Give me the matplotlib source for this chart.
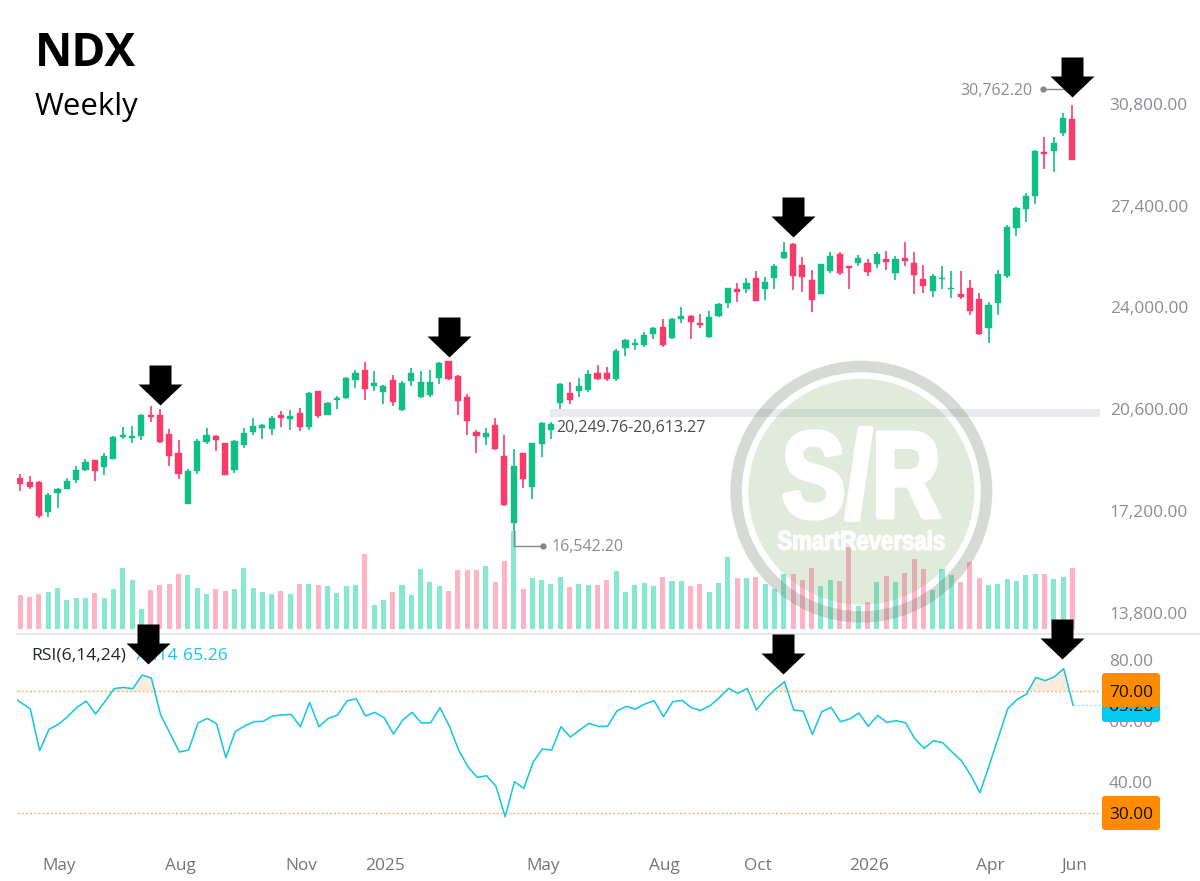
import numpy as np
import pandas as pd
import matplotlib
matplotlib.use("Agg")
import matplotlib.pyplot as plt
from matplotlib.path import Path
from matplotlib.lines import Line2D
from matplotlib.patches import Circle, Wedge, FancyBboxPatch
from matplotlib.transforms import Affine2D
import matplotlib.patheffects as pe

opens = [18309,18153,18164,17161,17807,17941,18220,18554,18888,18654,18944,19668,19635,19713,20415,20415,19769,19134,17440,18543,
19512,19702,19457,18565,19401,19836,19958,19936,20393,20281,20482,19992,21195,20415,20916,20961,21563,21908,21362,21173,
21563,20571,21540,20994,21061,21652,22198,21696,21006,19847,19668,20058,19022,16782,19122,18008,19423,19914,20804,21150,
21195,21250,21796,21796,21607,22632,22755,22755,23111,23356,22977,23601,23713,23468,23000,23724,24159,24604,24615,24994,
24615,24994,25663,26131,25429,24906,24449,25207,25775,25374,25497,25474,25463,25630,25140,25641,25497,24962,24549,24939,
24616,24438,24661,24293,23301,24148,25040,26656,27280,27725,29196,29230,29820,30299]
highs = [18420,18365,18186,17796,17952,18287,18699,18933,18900,19145,19702,20003,20047,20437,20716,20604,19936,19568,18610,19602,
19958,19746,19468,19579,19969,20292,20092,20359,20526,20571,20627,21184,21217,20850,21039,21663,21908,22164,21864,21396,
21730,21540,21964,21864,21897,22164,22220,21752,21095,19902,19958,20315,19724,19256,19145,19479,20181,20181,21473,21506,
21640,21919,22064,22008,22621,22933,22944,23167,23334,23613,23646,24003,23757,23769,23880,24159,24660,24805,24983,25206,
25017,25440,26198,26153,25685,25251,25463,25842,25842,25396,25742,25619,25842,25887,25719,26187,25864,25407,25107,25374,
25207,25207,24906,24494,24193,25251,26745,27346,27814,29263,29698,29698,30489,30762]
lows = [17874,17930,16972,17005,17284,17930,18142,18532,18186,18387,18922,19613,19468,19568,20159,19479,18710,18253,17429,18420,
19434,19212,18398,18454,19290,19724,19613,19746,20014,19902,19880,19891,20292,20393,20593,20939,21295,20894,21217,20783,
20716,20526,21373,20972,20994,21451,21574,20393,19724,19145,19390,19234,17373,16542,17975,17585,19000,19590,20604,20771,
21016,21183,21573,21540,21529,22376,22576,22665,22944,22665,22955,23468,22933,23323,22977,23679,23980,24170,24493,24203,
24248,24627,25629,24582,24515,23836,24438,25140,25084,24627,25385,25062,25329,25240,24928,25396,24438,24494,24360,24605,
24304,24271,23736,23067,22822,23758,24995,26388,26856,27469,28617,28539,29731,28918]
closes = [18108,17997,17027,17741,17930,18197,18576,18833,18532,19033,19680,19724,19702,20415,20326,19512,19033,18443,18543,19535,
19735,19568,18409,19546,19802,20025,20070,20292,20315,20382,20014,21150,20370,20816,20983,21641,21808,21273,21485,21362,
20827,21462,21797,21496,21518,22142,21596,20883,20203,19691,19791,19256,17395,18710,18264,19457,20136,20092,21451,20894,
21362,21774,21618,21618,22554,22899,22799,23089,23301,22732,23624,23724,23501,23401,23668,24114,24638,24504,24805,24214,
24838,25373,25863,25061,25005,24237,25441,25719,25151,25329,25664,25196,25786,25519,25619,25552,25073,24728,25040,24973,
24661,24349,23892,23101,24070,25129,26689,27324,27736,29241,29129,29486,30344,28929]
volumes = [102,97,105,112,123,88,95,93,108,95,121,185,148,61,118,133,137,166,164,125,
106,121,115,120,184,123,112,105,114,107,136,136,133,131,108,130,133,225,74,87,
113,134,104,181,143,131,115,177,177,179,190,142,205,295,120,154,147,135,158,126,
136,134,132,148,174,112,132,139,130,157,146,146,131,137,113,140,216,155,155,156,
135,122,165,165,147,183,130,147,146,248,70,82,143,160,141,168,211,181,118,181,
164,143,202,155,133,137,150,144,162,166,165,150,158,185]
# the first value belongs to the week before the first visible candle
rsi = [68.25,66.07,63.99,50.33,57.32,58.96,61.48,64.54,66.61,62.35,66.39,70.66,71.09,70.66,75.14,74.15,62.02,56.01,49.89,50.55,
59.40,60.93,59.18,48.03,56.56,58.42,59.84,59.95,61.69,62.02,62.24,58.20,66.17,58.20,60.93,62.02,66.61,67.38,61.69,62.90,
61.15,55.79,60.38,62.90,59.40,59.51,64.43,58.42,50.55,45.08,41.58,42.13,38.74,28.69,40.16,37.98,46.61,50.87,50.55,58.20,
54.81,57.10,59.29,58.31,58.31,63.33,64.86,63.99,65.63,66.72,61.48,66.39,66.83,64.43,63.55,65.08,67.70,70.77,69.13,70.77,
63.66,67.49,70.44,72.95,63.66,63.33,55.68,63.11,64.54,59.84,60.71,62.68,58.31,61.91,59.62,60.16,59.51,54.26,51.09,53.61,
52.95,49.89,47.05,42.35,36.56,45.63,54.92,64.21,67.16,68.91,74.37,73.28,74.59,77.21,65.26]
price_ticks = [13800,17200,20600,24000,27400,30800]
rsi_ticks = [40,60,80]
month_ticks = ['2024-05-06','2024-08-05','2024-11-04','2025-01-06','2025-05-05','2025-08-04','2025-10-13','2026-01-05','2026-04-06','2026-06-08']
month_labels = ['May','Aug','Nov','2025','May','Aug','Oct','2026','Apr','Jun']
price_arrow_weeks = [15,46,83,113]
price_arrow_values = [20740,22340,26350,31040]
rsi_arrow_weeks = [13.7,81.9,111.9]
rsi_arrow_values = [78.66,75.38,80.3]
band_low, band_high = 20350, 20613.27

plt.rcParams['font.family'] = ['Open Sans','DejaVu Sans']
W, H = 1200, 881
GREEN, RED = '#0FBF85', '#FB3A6A'
VGREEN, VRED = '#86E9CF', '#FFB4C6'
GRAY, CYAN, ORANGE = '#8C8C94', '#17C8E4', '#FF8C00'
fs = 12.4
fs_note = 11.5

class Condense(pe.AbstractPathEffect):
    """Draw a text narrower about a vertical line, with a stroke that thickens it."""
    def __init__(self, sx, xc, stroke=0):
        super().__init__()
        self.sx, self.xc, self.stroke = sx, xc, stroke
    def draw_path(self, renderer, gc, tpath, affine, rgbFace):
        aff = affine + Affine2D().translate(-self.xc, 0).scale(self.sx, 1).translate(self.xc, 0)
        gc0 = renderer.new_gc()
        gc0.copy_properties(gc)
        if self.stroke:
            gc0.set_foreground(rgbFace)
            gc0.set_linewidth(self.stroke)
        renderer.draw_path(gc0, tpath, aff, rgbFace)
        gc0.restore()

weeks = pd.date_range('2024-04-08', periods=len(opens), freq='W-MON')
x = np.arange(len(opens))
o, h, l, c = map(np.array, (opens, highs, lows, closes))
up = c >= o

fig = plt.figure(figsize=(12, 8.81), dpi=100, facecolor='white')
def rect(left, top, right, bottom):
    return [left/W, 1-bottom/H, (right-left)/W, (bottom-top)/H]

L, R = 16.7, 1100
xlim = ((L-20.3)/9.31, (R-20.3)/9.31)
to_price = lambda y: 34277-33.43*y
to_rsi = lambda y: 70-(y-690.7)/3.05

ax_vol = fig.add_axes(rect(L, 0, R, 629.3), zorder=1)
ax = fig.add_axes(rect(L, 0, R, 629.3), zorder=2)
ax_rsi = fig.add_axes(rect(L, 634, R, 845), zorder=4)
over = fig.add_axes([0, 0, 1, 1], zorder=5)
for a in (ax_vol, ax, ax_rsi, over):
    a.patch.set_visible(False)
    for s in a.spines.values():
        s.set_visible(False)
    a.tick_params(length=0)
over.set_xlim(0, W); over.set_ylim(H, 0); over.axis('off')
fig.add_artist(Line2D([L/W, 1], [1-633.7/H]*2, color='#E6E6EB', lw=1.3, zorder=3))

# volume
ax_vol.bar(x, volumes, width=0.54, color=[VGREEN if u else VRED for u in up])
ax_vol.set_xlim(*xlim); ax_vol.set_ylim(0, 1888)
ax_vol.set_xticks([]); ax_vol.set_yticks([])

# price
ax.set_xlim(*xlim); ax.set_ylim(to_price(629.3), to_price(0))
ax.axhspan(band_low, band_high, xmin=(56.9-xlim[0])/(xlim[1]-xlim[0]), color='#E8EAED', lw=0, zorder=1)
cols = [GREEN if u else RED for u in up]
ax.vlines(x, l, h, colors=cols, lw=1.2, zorder=2)
ax.bar(x, np.abs(c-o), bottom=np.minimum(o, c), width=0.66, color=cols, edgecolor=cols, lw=0.3, zorder=3)
ax.set_xticks([])
ax.yaxis.tick_right()
ax.set_yticks(price_ticks, [f'{t:,.2f}' for t in price_ticks])
ax.tick_params(axis='y', pad=7, labelsize=fs, labelcolor=GRAY)

arrow_path = Path([(0,0),(22,21),(11,21),(11,40),(-11,40),(-11,21),(-22,21),(0,0)], closed=True)
ax.plot(price_arrow_weeks, price_arrow_values, ls='', marker=arrow_path, ms=57.6, color='black', mew=0, clip_on=False, zorder=6)

# extreme price labels
ax.plot([53, 53, 56.0], [16542, to_price(545.5), to_price(545.5)], color='#85858C', lw=1, zorder=4)
ax.plot([56.1], [to_price(545.5)], 'o', ms=3.5, color='#85858C', zorder=4)
ax.text(57.1, to_price(547.5), '16,542.20', color=GRAY, fontsize=fs_note, va='center', ha='left')
ax.plot([109.8, 112.8], [to_price(89)]*2, color='#85858C', lw=1, zorder=4)
ax.plot([109.8], [to_price(89)], 'o', ms=3.5, color='#85858C', zorder=4)
ax.text(108.75, to_price(91), '30,762.20', color=GRAY, fontsize=fs_note, va='center', ha='right')
ax.text(57.6, to_price(428), '20,249.76-20,613.27', color='#4A4A50', fontsize=fs_note, va='center', ha='left')

# RSI
rx = np.arange(-1, len(opens)) + 0.08
ra = np.array(rsi)
ax_rsi.set_xlim(*xlim); ax_rsi.set_ylim(to_rsi(845), to_rsi(634))
ax_rsi.fill_between(rx, 70, ra, where=ra > 70, interpolate=True, color='#FBEBDB', lw=0, zorder=1)
ax_rsi.plot(rx, ra, color=CYAN, lw=1.15, zorder=3)
for v in (70, 30):
    ax_rsi.axhline(v, color='#FFB066', lw=1, ls=(0, (1.5, 1.5)), zorder=2)
ax_rsi.plot([113.1, xlim[1]+0.2], [ra[-1]]*2, color='#9FE6F2', lw=1, ls=(0, (1.5, 1.5)), clip_on=False)
ax_rsi.yaxis.tick_right()
ax_rsi.set_yticks(rsi_ticks, [f'{t:.2f}' for t in rsi_ticks])
ax_rsi.tick_params(axis='y', pad=6.5, labelsize=fs, labelcolor=GRAY)
ax_rsi.set_xticks([weeks.get_loc(pd.Timestamp(d))+0.2 for d in month_ticks], month_labels)
ax_rsi.tick_params(axis='x', pad=9, labelsize=fs, labelcolor='#74747C')
ax_rsi.text(31, 656, 'RSI(6,14,24)', fontsize=12.6, color='#22262E', va='center', ha='left', transform=over.transData, zorder=4)
ax_rsi.text(133, 656, '74.14', fontsize=12.6, color=CYAN, va='center', ha='left', transform=over.transData, zorder=4)
ax_rsi.text(183, 656, '65.26', fontsize=12.6, color=CYAN, va='center', ha='left', transform=over.transData, zorder=4)
ax_rsi.plot(rsi_arrow_weeks, rsi_arrow_values, ls='', marker=arrow_path, ms=57.6, color='black', mew=0, clip_on=False, zorder=6)

# overlay: titles, value boxes, watermark
over.text(35, 54, 'NDX', fontsize=33, fontweight='bold', color='black', va='center', ha='left')
over.text(35, 107, 'Weekly', fontsize=22.5, color='black', va='center', ha='left')

def box(y0, y1, color, label, yc, z):
    over.add_patch(FancyBboxPatch((1105, y0+3), 52, y1-y0-6, boxstyle='round,pad=3', fc=color, ec='none', zorder=z))
    over.text(1131, yc, label, fontsize=fs, color='#111111', ha='center', va='center', zorder=z)
box(689, 722, '#03CBEF', '65.26', 707, 3)
box(673, 707, ORANGE, '70.00', 693, 4)
box(796, 830, ORANGE, '30.00', 815, 4)

cx, cy = 861.3, 491.7
over.add_patch(Wedge((cx, cy), 131, 0, 360, width=11.5, fc=(0.36, 0.43, 0.33, 0.25), ec='none', zorder=6))
over.add_patch(Circle((cx, cy), 113, fc=(0.42, 0.62, 0.33, 0.20), ec='none', zorder=6))
over.text(cx, 485, 'S/R', fontsize=88, fontweight='bold', family='Liberation Sans', color='white',
          ha='center', va='center', zorder=7, path_effects=[Condense(0.78, cx, stroke=3.5)])
over.text(cx, 542.7, 'SmartReversals', fontsize=19.5, fontweight='bold', family='Liberation Sans', color='white',
          ha='center', va='center', zorder=7, alpha=0.9, path_effects=[Condense(0.82, cx, stroke=1)])

fig.savefig('out.png', dpi=100)
